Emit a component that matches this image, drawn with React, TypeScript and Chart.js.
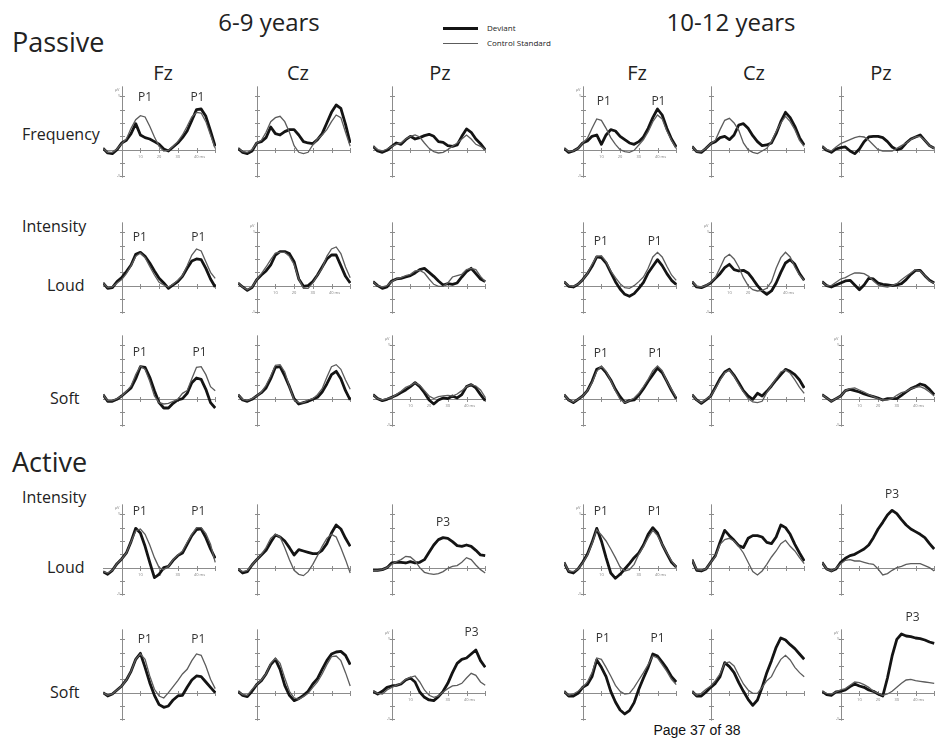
import React, { useEffect, useRef } from 'react';
import { Chart, registerables } from 'chart.js';
Chart.register(...registerables);

// ---------- DATA ----------
const timesMs = [-10, -7.5, -5, -2.5, 0, 2.5, 5, 7.5, 10, 12.5, 15, 17.5, 20, 22.5, 25, 27.5, 30, 32.5, 35, 37.5, 40, 42.5, 45, 47.5, 50];
const xTickValues = [10, 20, 30, 40, 50];
const yTickValues = [-2, -1, 0, 1, 2, 3, 4];
const xTickLabels = ['10', '20', '30', '40 ms'];
const seriesNames = ['Deviant', 'Control Standard'];
const ageGroups = ['6-9 years', '10-12 years'];
const electrodes = ['Fz', 'Cz', 'Pz'];

// Passive – Frequency
const freqFz69Dev = [0.1, -0.25, -0.3, 0, 0.5, 0.7, 1.2, 1.95, 1.1, 0.9, 0.8, 0.6, 0.4, 0.05, -0.1, 0.2, 0.5, 0.9, 1.4, 2.2, 3.0, 3.05, 2.5, 1.4, 0.25];
const freqFz69Ctl = [0.1, -0.2, -0.2, 0.05, 0.45, 0.8, 1.6, 2.25, 2.55, 2.45, 1.75, 0.95, 0.25, -0.1, -0.05, 0.25, 0.6, 1.1, 1.75, 2.45, 2.8, 2.75, 2.1, 1.1, 0.1];
const freqCz69Dev = [0.1, -0.2, -0.3, -0.1, 0.5, 0.6, 0.9, 1.7, 1.2, 1.1, 1.35, 1.5, 1.5, 1.1, 0.6, 0.5, 0.45, 0.75, 1.2, 2.0, 2.8, 3.35, 3.1, 1.9, 0.5];
const freqCz69Ctl = [0.1, -0.15, -0.2, 0, 0.5, 0.7, 1.3, 2.1, 2.4, 2.5, 2.1, 1.3, 0.3, -0.2, -0.3, -0.2, 0.35, 0.8, 1.1, 1.5, 2.1, 2.6, 2.4, 1.3, 0.25];
const freqPz69Dev = [0.25, -0.1, -0.2, -0.05, 0.25, 0.5, 0.4, 0.75, 1.0, 0.8, 0.9, 1.05, 1.15, 1.0, 0.6, 0.55, 0.3, 0.25, 0.35, 1.0, 1.55, 1.3, 0.8, 0.45, 0];
const freqPz69Ctl = [0.25, 0, -0.1, 0.05, 0.25, 0.4, 0.5, 0.8, 1.0, 1.1, 0.95, 0.5, 0.1, -0.15, -0.25, -0.2, 0, 0.25, 0.5, 0.8, 1.1, 0.8, 0.4, 0.25, 0];
const freqFz1012Dev = [0.1, -0.2, -0.1, 0.1, 0.5, 0.65, 1.0, 1.1, 0.4, 1.1, 1.5, 1.4, 1.0, 0.75, 0.5, 0.4, 0.6, 0.95, 1.6, 2.4, 3.05, 2.6, 1.6, 0.8, 0.2];
const freqFz1012Ctl = [0.1, -0.15, -0.1, 0.1, 0.5, 0.85, 1.6, 2.3, 2.2, 1.6, 0.9, 0.4, 0, -0.15, -0.2, -0.05, 0.35, 0.75, 1.35, 2.1, 2.6, 2.3, 1.4, 0.7, 0.1];
const freqCz1012Dev = [0.25, -0.15, -0.2, 0.1, 0.45, 0.6, 0.9, 1.0, 0.75, 1.1, 1.85, 1.95, 1.6, 1.05, 0.6, 0.3, 0.35, 0.5, 1.2, 2.1, 2.8, 2.4, 1.75, 0.9, 0.35];
const freqCz1012Ctl = [0.25, -0.15, -0.15, 0.1, 0.45, 0.7, 1.5, 2.2, 2.35, 2.0, 1.45, 0.5, 0, -0.2, -0.3, -0.1, 0.1, 0.6, 1.35, 2.0, 2.5, 2.1, 1.5, 0.7, 0.25];
const freqPz1012Dev = [0.25, -0.05, -0.2, 0.05, 0.15, 0.2, -0.1, -0.3, 0.05, 0.6, 0.95, 1.0, 1.0, 0.9, 0.6, 0.2, 0, 0.1, 0.5, 0.8, 0.95, 1.1, 0.7, 0.3, 0.1];
const freqPz1012Ctl = [0.25, 0, -0.1, 0.2, 0.45, 0.6, 0.75, 0.9, 1.0, 0.95, 0.7, 0.35, 0, -0.1, -0.1, -0.1, 0.1, 0.3, 0.5, 0.75, 0.95, 1.0, 0.7, 0.3, 0.1];

// Passive – Intensity Loud
const loudFz69Dev = [0.2, -0.2, -0.15, 0.3, 0.6, 1.05, 1.55, 2.35, 2.5, 2.2, 1.7, 1.1, 0.55, 0.2, -0.2, 0.05, 0.3, 0.7, 1.3, 1.85, 2.0, 1.95, 1.3, 0.5, -0.1];
const loudFz69Ctl = [0.2, -0.15, -0.1, 0.2, 0.45, 0.9, 1.5, 2.2, 2.45, 2.1, 1.45, 0.8, 0.25, 0.05, -0.1, 0.1, 0.4, 0.75, 1.5, 2.3, 2.75, 2.6, 1.8, 1.0, 0.55];
const loudCz69Dev = [0.2, -0.1, -0.35, -0.15, 0.45, 0.8, 1.1, 1.55, 2.3, 2.55, 2.55, 2.4, 1.8, 0.5, -0.05, 0, 0.3, 0.8, 1.4, 2.0, 2.3, 2.3, 1.5, 0.7, 0.2];
const loudCz69Ctl = [0.2, -0.1, -0.3, -0.1, 0.45, 0.9, 1.4, 1.95, 2.45, 2.5, 2.5, 2.2, 1.6, 0.5, -0.2, -0.2, 0.2, 0.8, 1.3, 2.2, 2.75, 2.9, 2.4, 1.4, 0.6];
const loudPz69Dev = [0.3, 0, -0.2, -0.1, 0.35, 0.5, 0.55, 0.65, 0.75, 0.95, 1.2, 1.3, 1.0, 0.7, 0.35, 0.05, 0.15, 0.1, 0.2, 0.65, 1.05, 1.3, 0.9, 0.5, 0.3];
const loudPz69Ctl = [0.3, 0, -0.1, 0, 0.3, 0.5, 0.6, 0.75, 0.85, 1.1, 1.15, 0.95, 0.5, 0.1, -0.05, -0.05, 0.2, 0.65, 0.75, 0.85, 1.2, 1.3, 1.2, 0.7, 0.3];
const loudFz1012Dev = [0.3, -0.05, -0.1, 0.1, 0.45, 0.9, 1.45, 2.15, 2.1, 1.7, 1.0, 0.3, -0.25, -0.65, -0.8, -0.6, -0.2, 0.25, 0.95, 1.45, 1.95, 1.5, 0.9, 0.4, 0.1];
const loudFz1012Ctl = [0.3, 0, -0.05, 0.1, 0.45, 0.9, 1.6, 2.2, 2.25, 1.8, 1.1, 0.6, 0.15, -0.15, -0.2, 0, 0.3, 0.65, 1.3, 2.15, 2.5, 2.15, 1.45, 0.8, 0.4];
const loudCz1012Dev = [0.3, -0.1, -0.15, 0, 0.2, 0.55, 0.9, 1.35, 1.6, 1.2, 1.1, 1.15, 0.95, 0.5, 0, -0.4, -0.65, -0.4, 0.2, 1.0, 1.7, 1.95, 1.6, 0.9, 0.4];
const loudCz1012Ctl = [0.3, -0.05, -0.1, 0, 0.25, 0.6, 1.35, 2.1, 2.35, 2.0, 1.4, 0.6, 0, -0.3, -0.4, -0.35, -0.2, 0.3, 1.3, 2.1, 2.5, 2.15, 1.4, 0.8, 0.4];
const loudPz1012Dev = [0.3, 0, -0.1, 0.05, 0.2, 0.35, 0.4, 0.05, -0.3, 0.05, 0.55, 0.5, 0.2, 0.1, 0.05, 0, 0.05, 0.15, 0.45, 0.85, 1.15, 1.15, 0.75, 0.4, 0.2];
const loudPz1012Ctl = [0.3, 0, 0, 0.25, 0.5, 0.6, 0.8, 0.95, 0.95, 0.9, 0.7, 0.35, 0.05, -0.05, -0.1, 0, 0.15, 0.45, 0.7, 0.95, 1.2, 1.1, 0.75, 0.35, 0.2];

// Passive – Intensity Soft
const softFz69Dev = [0.3, -0.2, -0.2, -0.05, 0.2, 0.5, 0.8, 1.5, 2.4, 2.35, 1.6, 0.6, -0.3, -0.7, -0.7, -0.35, -0.1, 0, 0.4, 1.2, 1.55, 1.45, 0.7, -0.3, -0.7];
const softFz69Ctl = [0.3, -0.15, -0.15, 0, 0.2, 0.55, 0.95, 1.8, 2.45, 2.2, 1.3, 0.2, -0.3, -0.4, -0.35, -0.2, -0.05, 0.4, 0.6, 1.5, 2.35, 2.4, 1.8, 0.9, 0.6];
const softCz69Dev = [0.3, -0.1, -0.2, -0.05, 0.2, 0.45, 0.8, 1.5, 2.35, 2.4, 1.7, 0.9, 0, -0.4, -0.3, -0.2, -0.05, 0.1, 0.5, 1.1, 1.8, 2.05, 1.5, 0.6, -0.1];
const softCz69Ctl = [0.3, -0.05, -0.15, 0, 0.2, 0.5, 1.0, 1.7, 2.5, 2.55, 2.0, 0.9, -0.1, -0.3, -0.3, -0.1, 0, 0.3, 0.75, 1.6, 2.4, 2.55, 2.2, 1.4, 0.7];
const softPz69Dev = [0.3, 0, -0.15, -0.05, 0.1, 0.25, 0.45, 0.65, 0.9, 1.2, 0.9, 0.45, -0.1, -0.4, -0.1, 0.05, 0, 0.2, 0.05, 0.3, 0.9, 1.05, 0.8, 0.3, -0.15];
const softPz69Ctl = [0.3, 0, -0.1, 0, 0.1, 0.3, 0.55, 0.85, 1.0, 1.2, 1.0, 0.6, 0.2, 0, 0.15, 0.2, 0.25, 0.2, 0.35, 0.6, 0.9, 1.05, 0.95, 0.65, 0.1];
const softFz1012Dev = [0.3, -0.1, -0.3, -0.05, 0.2, 0.6, 1.3, 2.2, 2.35, 1.95, 1.4, 0.7, 0.15, -0.3, -0.15, -0.1, 0.25, 0.75, 1.3, 1.8, 2.3, 1.95, 1.3, 0.6, 0];
const softFz1012Ctl = [0.3, -0.1, -0.25, -0.05, 0.2, 0.6, 1.2, 2.05, 2.45, 2.05, 1.35, 0.6, -0.05, -0.3, -0.15, 0.05, 0.4, 0.9, 1.45, 2.1, 2.45, 2.1, 1.3, 0.7, 0.1];
const softCz1012Dev = [0.3, -0.1, -0.35, -0.1, 0.2, 0.85, 1.5, 2.0, 2.2, 1.75, 1.2, 0.6, 0.2, -0.05, 0.4, 0.2, 0.55, 0.95, 1.4, 1.8, 2.2, 2.05, 1.8, 1.4, 0.8];
const softCz1012Ctl = [0.3, -0.1, -0.3, -0.05, 0.2, 0.75, 1.4, 1.95, 2.15, 1.7, 1.05, 0.5, 0, -0.25, -0.3, -0.2, 0.45, 1.0, 1.5, 2.0, 2.15, 1.9, 1.4, 0.85, 0.4];
const softPz1012Dev = [0.3, 0.05, -0.2, 0, 0.2, 0.6, 0.7, 0.6, 0.5, 0.35, 0.25, 0.15, 0.05, -0.1, 0, 0, 0, 0.25, 0.5, 0.75, 0.9, 1.1, 1.0, 0.7, 0.3];
const softPz1012Ctl = [0.3, 0.05, -0.2, 0, 0.2, 0.6, 0.75, 0.8, 0.65, 0.5, 0.3, 0.15, 0, -0.1, -0.1, 0, 0.25, 0.45, 0.55, 0.75, 0.85, 0.9, 0.75, 0.5, 0.2];

// Active – Intensity Loud
const actLoudFz69Dev = [-0.3, -0.5, -0.2, 0.3, 0.65, 1.1, 1.95, 2.95, 2.6, 1.6, 0.4, -0.75, -0.5, 0, 0.1, 0.55, 0.9, 1.1, 1.75, 2.4, 2.85, 2.9, 2.25, 1.4, 0.7];
const actLoudFz69Ctl = [-0.3, -0.4, -0.2, 0.3, 0.65, 1.1, 1.95, 2.75, 2.9, 2.5, 1.7, 0.75, 0, -0.15, 0.1, 0.6, 0.95, 1.25, 1.9, 2.5, 3.0, 3.0, 2.55, 1.75, 0.4];
const actLoudCz69Dev = [-0.1, -0.4, -0.3, 0.2, 0.6, 0.95, 1.3, 1.9, 2.45, 2.3, 2.0, 1.5, 0.95, 1.35, 1.25, 1.15, 1.05, 1.05, 1.3, 1.8, 2.6, 3.2, 2.9, 2.2, 1.6];
const actLoudCz69Ctl = [-0.1, -0.3, -0.2, 0.2, 0.6, 1.0, 1.5, 2.2, 2.5, 2.3, 1.5, 0.6, -0.2, -0.5, -0.6, -0.3, 0.25, 0.9, 1.6, 2.2, 2.5, 2.3, 1.5, 0.6, -0.4];
const actLoudPz69Dev = [-0.2, -0.2, -0.15, 0, 0.35, 0.4, 0.4, 0.35, 0.45, 0.35, 0.4, 0.6, 1.15, 1.7, 2.1, 2.25, 2.2, 1.95, 1.65, 1.6, 1.7, 1.6, 1.3, 0.95, 0.9];
const actLoudPz69Ctl = [-0.2, -0.2, -0.15, 0, 0.25, 0.45, 0.6, 0.85, 0.8, 0.5, 0, -0.35, -0.45, -0.5, -0.45, -0.3, -0.05, 0.1, 0.15, 0.4, 0.75, 0.6, 0.2, -0.15, -0.4];
const actLoudFz1012Dev = [0.4, -0.3, -0.4, -0.1, 0.4, 1.0, 1.9, 2.95, 2.0, 0.75, -0.4, -0.8, -0.5, -0.1, 0.3, 0.75, 1.1, 1.7, 2.5, 3.0, 2.6, 1.75, 1.05, 0.4, 0.05];
const actLoudFz1012Ctl = [0.4, -0.25, -0.3, -0.1, 0.35, 0.95, 1.8, 2.85, 2.45, 2.0, 1.4, 0.75, 0.05, -0.25, -0.15, 0.25, 1.0, 1.6, 2.25, 2.8, 2.4, 1.75, 1.1, 0.5, 0.05];
const actLoudCz1012Dev = [0.6, -0.2, -0.25, -0.1, 0.4, 0.9, 1.9, 2.8, 2.4, 2.05, 1.65, 1.5, 2.2, 2.4, 2.4, 2.3, 1.9, 1.8, 2.3, 3.2, 3.0, 2.5, 1.75, 1.1, 0.5];
const actLoudCz1012Ctl = [0.6, -0.15, -0.2, -0.1, 0.4, 0.85, 1.75, 2.1, 2.2, 2.0, 1.6, 1.1, 0.4, -0.3, -0.55, -0.25, 0.25, 0.8, 1.25, 1.8, 2.05, 1.6, 1.25, 0.75, 0.3];
const actLoudPz1012Dev = [0.4, -0.1, -0.25, -0.1, 0.4, 0.7, 0.9, 1.0, 1.2, 1.4, 1.7, 2.25, 2.9, 3.4, 3.95, 4.3, 4.05, 3.6, 3.2, 2.9, 2.7, 2.5, 2.25, 1.8, 1.4];
const actLoudPz1012Ctl = [0.4, -0.1, -0.25, -0.05, 0.3, 0.55, 0.6, 0.5, 0.5, 0.4, 0.3, 0.25, -0.1, -0.55, -0.45, -0.2, 0, 0.1, 0.25, 0.3, 0.3, 0.3, 0.15, 0, -0.25];

// Active – Intensity Soft
const actSoftFz69Dev = [0, -0.25, -0.1, 0.2, 0.5, 0.95, 1.6, 2.5, 2.95, 1.9, 0.75, -0.2, -0.9, -1.1, -1.0, -0.55, -0.25, -0.2, 0.4, 0.95, 1.25, 1.2, 0.8, 0.4, 0];
const actSoftFz69Ctl = [0, -0.2, -0.1, 0.2, 0.5, 0.95, 1.6, 2.5, 2.9, 2.5, 1.25, 0.25, -0.25, -0.4, 0, 0.45, 0.9, 1.4, 1.75, 2.4, 2.9, 2.8, 2.0, 1.0, 0.3];
const actSoftCz69Dev = [0.1, -0.2, -0.3, 0.1, 0.6, 0.9, 1.4, 2.1, 2.5, 1.75, 0.55, -0.2, -0.6, -0.45, -0.2, 0.1, 0.65, 1.05, 1.75, 2.4, 2.9, 3.05, 3.1, 2.8, 2.1];
const actSoftCz69Ctl = [0.1, -0.15, -0.2, 0.25, 0.6, 0.95, 1.4, 2.2, 2.6, 2.2, 1.1, 0.1, -0.4, -0.5, -0.3, -0.05, 0.4, 0.8, 1.4, 2.1, 2.7, 2.75, 2.4, 1.5, 0.5];
const actSoftPz69Dev = [0.1, -0.1, 0.1, 0.4, 0.5, 0.55, 0.65, 0.95, 1.1, 0.8, 0.05, -0.35, -0.55, -0.6, -0.3, 0.1, 0.7, 1.5, 2.2, 2.5, 2.6, 2.9, 3.2, 2.4, 1.9];
const actSoftPz69Ctl = [0.1, -0.05, -0.1, 0.2, 0.4, 0.55, 0.7, 1.0, 1.15, 1.25, 0.8, 0.2, -0.2, -0.35, -0.25, 0.05, 0.3, 0.5, 0.55, 0.7, 1.1, 1.45, 1.3, 0.8, 0.55];
const actSoftFz1012Dev = [0.1, -0.25, -0.25, -0.05, 0.4, 0.6, 1.2, 2.45, 1.9, 1.2, 0.1, -0.7, -1.3, -1.6, -1.35, -0.75, 0.25, 1.1, 1.9, 2.9, 2.75, 2.3, 1.8, 1.2, 0.8];
const actSoftFz1012Ctl = [0.1, -0.2, -0.1, 0.1, 0.4, 0.8, 1.5, 2.6, 2.5, 1.9, 1.25, 0.55, 0.1, -0.1, -0.05, 0.4, 0.95, 1.5, 2.1, 2.75, 2.6, 2.1, 1.6, 1.0, 0.6];
const actSoftCz1012Dev = [0.1, -0.25, -0.25, 0.05, 0.4, 0.7, 1.2, 2.25, 1.95, 1.5, 0.75, 0.1, -0.5, -0.95, -0.55, 0.4, 1.5, 2.4, 3.4, 4.1, 3.95, 3.6, 3.3, 2.9, 2.5];
const actSoftCz1012Ctl = [0.1, -0.2, -0.05, 0.25, 0.5, 0.9, 1.4, 2.2, 2.3, 2.0, 1.3, 0.65, 0.2, -0.05, -0.05, 0.4, 0.9, 1.2, 1.9, 2.5, 2.8, 2.45, 1.9, 1.5, 1.2];
const actSoftPz1012Dev = [0.1, -0.15, -0.2, 0.05, 0.1, 0.2, 0.45, 0.65, 0.5, 0.4, 0.2, 0.1, -0.1, -0.25, 1.1, 2.75, 4.0, 4.4, 4.25, 4.2, 4.1, 4.05, 3.95, 3.8, 3.7];
const actSoftPz1012Ctl = [0.1, -0.05, -0.1, 0.05, 0.2, 0.3, 0.55, 0.8, 0.75, 0.6, 0.4, 0.1, -0.05, -0.2, -0.1, 0.1, 0.4, 0.7, 0.95, 1.0, 0.9, 0.85, 0.8, 0.75, 0.7];

// Component labels [text, time, amplitude]
type Peak = [string, number, number];
const p1Freq69: Peak[] = [['P1', 12.5, 3.9], ['P1', 40.5, 3.9]];
const p1Freq1012: Peak[] = [['P1', 11.3, 3.6], ['P1', 40.5, 3.6]];
const p1Loud69: Peak[] = [['P1', 9.7, 3.6], ['P1', 41, 3.6]];
const p1Loud1012: Peak[] = [['P1', 9.7, 3.3], ['P1', 38.5, 3.3]];
const p1Soft69: Peak[] = [['P1', 9.7, 3.45], ['P1', 41.6, 3.45]];
const p1Soft1012: Peak[] = [['P1', 9.7, 3.4], ['P1', 39, 3.4]];
const p1ActLoud69: Peak[] = [['P1', 9.7, 4.2], ['P1', 41, 4.2]];
const p3ActLoud69: Peak[] = [['P3', 27.5, 3.4]];
const p1ActLoud1012: Peak[] = [['P1', 9.7, 4.2], ['P1', 38.5, 4.2]];
const p3ActLoud1012: Peak[] = [['P3', 27.5, 5.5]];
const p1ActSoft69: Peak[] = [['P1', 12.4, 4.0], ['P1', 41, 4.0]];
const p3ActSoft69: Peak[] = [['P3', 42.7, 4.5]];
const p1ActSoft1012: Peak[] = [['P1', 10.8, 4.05], ['P1', 40, 4.05]];
const p3ActSoft1012: Peak[] = [['P3', 38.4, 5.6]];

// ---------- LAYOUT ----------
const PX_MS = 1.87;
const PX_UNIT = 13.33;
const X_MIN = -10;
const CANVAS_W = 113;
const X_MAX = X_MIN + CANVAS_W / PX_MS;
const Y_MAX = 6.2;
const CANVAS_H = 118;
const Y_MIN = Y_MAX - CANVAS_H / PX_UNIT;
const AXIS_LOW = -2.1;
const AXIS_HIGH = 4.75;

const AXIS_X: Record<string, Record<string, number>> = {
  young: { Fz: 122, Cz: 257, Pz: 392 },
  old: { Fz: 583, Cz: 711, Pz: 841 },
};
const BASE_Y: Record<string, number> = { freq: 150, loud: 286, soft: 399, aLoud: 568, aSoft: 693 };

type PanelDef = { age: string; row: string; elec: string; dev: number[]; ctl: number[]; peaks: Peak[]; units: boolean };

const panels: PanelDef[] = [
  { age: 'young', row: 'freq', elec: 'Fz', dev: freqFz69Dev, ctl: freqFz69Ctl, peaks: p1Freq69, units: true },
  { age: 'young', row: 'freq', elec: 'Cz', dev: freqCz69Dev, ctl: freqCz69Ctl, peaks: [], units: false },
  { age: 'young', row: 'freq', elec: 'Pz', dev: freqPz69Dev, ctl: freqPz69Ctl, peaks: [], units: false },
  { age: 'old', row: 'freq', elec: 'Fz', dev: freqFz1012Dev, ctl: freqFz1012Ctl, peaks: p1Freq1012, units: true },
  { age: 'old', row: 'freq', elec: 'Cz', dev: freqCz1012Dev, ctl: freqCz1012Ctl, peaks: [], units: false },
  { age: 'old', row: 'freq', elec: 'Pz', dev: freqPz1012Dev, ctl: freqPz1012Ctl, peaks: [], units: false },
  { age: 'young', row: 'loud', elec: 'Fz', dev: loudFz69Dev, ctl: loudFz69Ctl, peaks: p1Loud69, units: false },
  { age: 'young', row: 'loud', elec: 'Cz', dev: loudCz69Dev, ctl: loudCz69Ctl, peaks: [], units: true },
  { age: 'young', row: 'loud', elec: 'Pz', dev: loudPz69Dev, ctl: loudPz69Ctl, peaks: [], units: false },
  { age: 'old', row: 'loud', elec: 'Fz', dev: loudFz1012Dev, ctl: loudFz1012Ctl, peaks: p1Loud1012, units: false },
  { age: 'old', row: 'loud', elec: 'Cz', dev: loudCz1012Dev, ctl: loudCz1012Ctl, peaks: [], units: true },
  { age: 'old', row: 'loud', elec: 'Pz', dev: loudPz1012Dev, ctl: loudPz1012Ctl, peaks: [], units: false },
  { age: 'young', row: 'soft', elec: 'Fz', dev: softFz69Dev, ctl: softFz69Ctl, peaks: p1Soft69, units: false },
  { age: 'young', row: 'soft', elec: 'Cz', dev: softCz69Dev, ctl: softCz69Ctl, peaks: [], units: false },
  { age: 'young', row: 'soft', elec: 'Pz', dev: softPz69Dev, ctl: softPz69Ctl, peaks: [], units: true },
  { age: 'old', row: 'soft', elec: 'Fz', dev: softFz1012Dev, ctl: softFz1012Ctl, peaks: p1Soft1012, units: false },
  { age: 'old', row: 'soft', elec: 'Cz', dev: softCz1012Dev, ctl: softCz1012Ctl, peaks: [], units: false },
  { age: 'old', row: 'soft', elec: 'Pz', dev: softPz1012Dev, ctl: softPz1012Ctl, peaks: [], units: true },
  { age: 'young', row: 'aLoud', elec: 'Fz', dev: actLoudFz69Dev, ctl: actLoudFz69Ctl, peaks: p1ActLoud69, units: true },
  { age: 'young', row: 'aLoud', elec: 'Cz', dev: actLoudCz69Dev, ctl: actLoudCz69Ctl, peaks: [], units: false },
  { age: 'young', row: 'aLoud', elec: 'Pz', dev: actLoudPz69Dev, ctl: actLoudPz69Ctl, peaks: p3ActLoud69, units: false },
  { age: 'old', row: 'aLoud', elec: 'Fz', dev: actLoudFz1012Dev, ctl: actLoudFz1012Ctl, peaks: p1ActLoud1012, units: true },
  { age: 'old', row: 'aLoud', elec: 'Cz', dev: actLoudCz1012Dev, ctl: actLoudCz1012Ctl, peaks: [], units: false },
  { age: 'old', row: 'aLoud', elec: 'Pz', dev: actLoudPz1012Dev, ctl: actLoudPz1012Ctl, peaks: p3ActLoud1012, units: false },
  { age: 'young', row: 'aSoft', elec: 'Fz', dev: actSoftFz69Dev, ctl: actSoftFz69Ctl, peaks: p1ActSoft69, units: false },
  { age: 'young', row: 'aSoft', elec: 'Cz', dev: actSoftCz69Dev, ctl: actSoftCz69Ctl, peaks: [], units: false },
  { age: 'young', row: 'aSoft', elec: 'Pz', dev: actSoftPz69Dev, ctl: actSoftPz69Ctl, peaks: p3ActSoft69, units: true },
  { age: 'old', row: 'aSoft', elec: 'Fz', dev: actSoftFz1012Dev, ctl: actSoftFz1012Ctl, peaks: p1ActSoft1012, units: false },
  { age: 'old', row: 'aSoft', elec: 'Cz', dev: actSoftCz1012Dev, ctl: actSoftCz1012Ctl, peaks: [], units: false },
  { age: 'old', row: 'aSoft', elec: 'Pz', dev: actSoftPz1012Dev, ctl: actSoftPz1012Ctl, peaks: p3ActSoft1012, units: true },
];

const FONT = '"Open Sans", "Noto Sans", sans-serif';
const AXIS_COLOR = '#8c8c8c';
const DEV_COLOR = '#141414';
const CTL_COLOR = '#5c5c5c';

const erpAxes = {
  id: 'erpAxes',
  beforeDatasetsDraw(chart: any, _args: any, opts: any) {
    const { ctx } = chart;
    const xs = chart.scales.x;
    const ys = chart.scales.y;
    const x0 = Math.round(xs.getPixelForValue(0)) + 0.5;
    const y0 = Math.round(ys.getPixelForValue(0)) + 0.5;
    ctx.save();
    ctx.strokeStyle = AXIS_COLOR;
    ctx.lineWidth = 1;
    ctx.beginPath();
    ctx.moveTo(x0, ys.getPixelForValue(AXIS_LOW));
    ctx.lineTo(x0, ys.getPixelForValue(AXIS_HIGH));
    ctx.moveTo(xs.getPixelForValue(timesMs[0]), y0);
    ctx.lineTo(xs.getPixelForValue(timesMs[timesMs.length - 1]), y0);
    for (const v of yTickValues) {
      const y = Math.round(ys.getPixelForValue(v)) + 0.5;
      ctx.moveTo(x0 - 2.5, y);
      ctx.lineTo(x0 + 2.5, y);
    }
    for (const t of xTickValues) {
      const x = Math.round(xs.getPixelForValue(t)) + 0.5;
      ctx.moveTo(x, y0 - 2.5);
      ctx.lineTo(x, y0 + 2.5);
    }
    ctx.stroke();
    if (opts && opts.units) {
      ctx.fillStyle = '#808080';
      ctx.font = `4px ${FONT}`;
      ctx.textAlign = 'center';
      ctx.textBaseline = 'top';
      xTickLabels.forEach((lab, i) => {
        const x = xs.getPixelForValue(xTickValues[i]) + (i === xTickLabels.length - 1 ? 3 : 0);
        ctx.fillText(lab, x, y0 + 4);
      });
      ctx.textAlign = 'right';
      ctx.textBaseline = 'middle';
      ctx.fillText('µV', x0 - 3, ys.getPixelForValue(4.5));
      ctx.fillText('5', x0 - 2, ys.getPixelForValue(4));
      ctx.fillText('-5', x0 - 2, ys.getPixelForValue(-2));
    }
    ctx.restore();
  },
  afterDatasetsDraw(chart: any, _args: any, opts: any) {
    if (!opts || !opts.peaks) return;
    const { ctx } = chart;
    const xs = chart.scales.x;
    const ys = chart.scales.y;
    ctx.save();
    ctx.fillStyle = '#333';
    ctx.font = `12px ${FONT}`;
    ctx.textAlign = 'center';
    ctx.textBaseline = 'middle';
    for (const [txt, t, v] of opts.peaks as Peak[]) {
      ctx.fillText(txt, xs.getPixelForValue(t), ys.getPixelForValue(v));
    }
    ctx.restore();
  },
};

function ErpPanel({ def }: { def: PanelDef }) {
  const ref = useRef<HTMLCanvasElement>(null);
  useEffect(() => {
    const canvas = ref.current!;
    const toPts = (arr: number[]) => arr.map((y, i) => ({ x: timesMs[i], y }));
    const chart = new Chart(canvas, {
      type: 'line',
      data: {
        datasets: [
          { label: seriesNames[1], data: toPts(def.ctl), borderColor: CTL_COLOR, borderWidth: 1.3, pointRadius: 0, tension: 0, fill: false, clip: false as any },
          { label: seriesNames[0], data: toPts(def.dev), borderColor: DEV_COLOR, borderWidth: 2.8, pointRadius: 0, tension: 0, fill: false, clip: false as any, borderJoinStyle: 'round' as any },
        ],
      },
      options: {
        animation: false,
        responsive: false,
        maintainAspectRatio: false,
        devicePixelRatio: 1,
        events: [],
        layout: { padding: 0 },
        scales: {
          x: { type: 'linear', min: X_MIN, max: X_MAX, display: false },
          y: { type: 'linear', min: Y_MIN, max: Y_MAX, display: false },
        },
        plugins: {
          legend: { display: false },
          tooltip: { enabled: false },
          erpAxes: { peaks: def.peaks, units: def.units },
        } as any,
      },
      plugins: [erpAxes as any],
    });
    return () => chart.destroy();
  }, [def]);
  const axisX = AXIS_X[def.age][def.elec];
  const baseY = BASE_Y[def.row];
  const left = axisX - (0 - X_MIN) * PX_MS;
  const top = baseY - Y_MAX * PX_UNIT;
  return (
    <canvas
      ref={ref}
      width={CANVAS_W}
      height={CANVAS_H}
      style={{ position: 'absolute', left, top, width: CANVAS_W, height: CANVAS_H }}
    />
  );
}

type TextDef = { t: string; x: number; y: number; s: number; a?: 'left' | 'center' | 'right'; f?: string; c?: string };

function Txt({ d }: { d: TextDef }) {
  const isLib = d.f && d.f.includes('Liberation');
  const base = isLib ? 0.847 : 0.888;
  const tx = d.a === 'center' ? 'translateX(-50%)' : d.a === 'right' ? 'translateX(-100%)' : 'none';
  return (
    <div
      style={{
        position: 'absolute',
        left: d.x,
        top: d.y - d.s * base,
        fontSize: d.s,
        lineHeight: 1,
        fontFamily: d.f || FONT,
        color: d.c || '#222',
        whiteSpace: 'nowrap',
        transform: tx,
      }}
    >
      {d.t}
    </div>
  );
}

const texts: TextDef[] = [
  { t: 'Passive', x: 12, y: 52, s: 27 },
  { t: ageGroups[0], x: 269, y: 31, s: 24, a: 'center' },
  { t: ageGroups[1], x: 731, y: 31, s: 24, a: 'center' },
  { t: seriesNames[0], x: 487, y: 31, s: 8 },
  { t: seriesNames[1], x: 487, y: 46, s: 8 },
  { t: electrodes[0], x: 163, y: 81, s: 20, a: 'center' },
  { t: electrodes[1], x: 298, y: 81, s: 20, a: 'center' },
  { t: electrodes[2], x: 440, y: 81, s: 20, a: 'center' },
  { t: electrodes[0], x: 637, y: 81, s: 20, a: 'center' },
  { t: electrodes[1], x: 754, y: 81, s: 20, a: 'center' },
  { t: electrodes[2], x: 881, y: 81, s: 20, a: 'center' },
  { t: 'Frequency', x: 22, y: 140, s: 16 },
  { t: 'Intensity', x: 22, y: 232, s: 16 },
  { t: 'Loud', x: 47, y: 291, s: 16 },
  { t: 'Soft', x: 50, y: 404, s: 16 },
  { t: 'Active', x: 12, y: 472, s: 27 },
  { t: 'Intensity', x: 22, y: 503, s: 16 },
  { t: 'Loud', x: 47, y: 573, s: 16 },
  { t: 'Soft', x: 50, y: 698, s: 16 },
  { t: 'Page 37 of 38', x: 697, y: 735, s: 14, a: 'center', f: '"Liberation Sans", Arial, sans-serif', c: '#111' },
];

export default function App() {
  return (
    <div style={{ position: 'absolute', left: 0, top: 0, width: 936, height: 739, background: '#fff', overflow: 'hidden' }}>
      {texts.map((d, i) => (
        <Txt key={i} d={d} />
      ))}
      <div style={{ position: 'absolute', left: 443, top: 26.5, width: 35, height: 3, background: DEV_COLOR }} />
      <div style={{ position: 'absolute', left: 443, top: 42.5, width: 35, height: 1.3, background: CTL_COLOR }} />
      {panels.map((p, i) => (
        <ErpPanel key={i} def={p} />
      ))}
    </div>
  );
}
